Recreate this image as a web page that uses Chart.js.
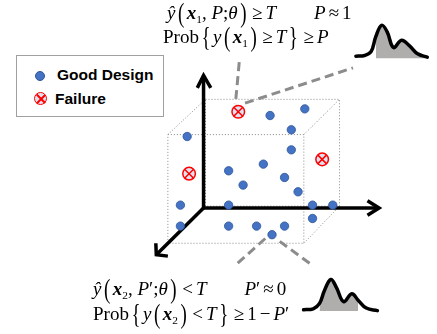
<!DOCTYPE html>
<html>
<head>
<meta charset="utf-8">
<script src="https://cdn.jsdelivr.net/npm/chart.js@4.4.1/dist/chart.umd.min.js"></script>
<style>
  html, body { margin: 0; padding: 0; background: #fff; }
  #wrap { position: relative; width: 437px; height: 334px; overflow: hidden; }
  canvas { position: absolute; left: 0; top: 0; }
  .math {
    position: absolute;
    font-family: 'Liberation Serif', 'DejaVu Serif', serif;
    font-size: 19px;
    color: #000;
    white-space: nowrap;
    line-height: 1;
  }
  .math i { font-style: italic; }
  .math b { font-weight: bold; font-style: italic; }
  .math .s { font-size: 0.6em; position: relative; top: 0.35em; }
  .math .p { display: inline-block; transform: scaleY(1.4); margin: 0 2.5px; }
  .math .br { display: inline-block; transform: scaleY(1.45); margin: 0 2.5px; }
  .math .r { margin: 0 3px; }
  .legend {
    position: absolute; left: 16px; top: 55px; width: 146px; height: 60px;
    border: 1.5px solid #a0a0a0; background: #fff;
    font-family: 'Liberation Sans', Arial, sans-serif; font-weight: bold; font-size: 15.5px;
  }
  .legend .row { position: absolute; left: 0; height: 16px; line-height: 16px; }
  .legend .dot {
    position: absolute; left: 18px; top: 4px; width: 8px; height: 8px; border-radius: 50%;
    background: #4472c4; border: 0.5px solid #2f5597;
  }
  .legend .fail {
    position: absolute; left: 17px; top: 1px; width: 11px; height: 11px; border-radius: 50%;
    background: #dce3f0; border: 1.5px solid #ff0000;
  }
  .legend .fail::before, .legend .fail::after {
    content: ''; position: absolute; left: 5px; top: -0.5px; width: 1.5px; height: 12px; background: #ff0000;
  }
  .legend .fail::before { transform: rotate(45deg); }
  .legend .fail::after { transform: rotate(-45deg); }
  .legend .txt { position: absolute; white-space: nowrap; }
</style>
</head>
<body>
<div id="wrap">
  <canvas id="diagram" width="437" height="334"></canvas>

  <div class="legend">
    <div class="row" style="top: 11px;"><span class="dot"></span><span class="txt" style="left: 40px;">Good Design</span></div>
    <div class="row" style="top: 35px;"><span class="fail"></span><span class="txt" style="left: 38px;">Failure</span></div>
  </div>

  <div class="math" style="left: 167px; top: 3px;">
    <i>ŷ</i><span class="p">(</span><b>x</b><span class="s">1</span>, <i>P</i>;<i>θ</i><span class="p">)</span><span class="r">≥</span><i>T</i>&emsp;&emsp;<i>P</i><span class="r">≈</span>1
  </div>
  <div class="math" style="left: 163px; top: 27px;">
    Prob<span class="br">{</span><i>y</i><span class="p">(</span><b>x</b><span class="s">1</span><span class="p">)</span><span class="r">≥</span><i>T</i><span class="br">}</span><span class="r">≥</span><i>P</i>
  </div>

  <div class="math" style="left: 93px; top: 279px;">
    <i>ŷ</i><span class="p">(</span><b>x</b><span class="s">2</span>, <i>P</i>′;<i>θ</i><span class="p">)</span><span class="r">&lt;</span><i>T</i>&emsp;&emsp;<i>P</i>′<span class="r">≈</span>0
  </div>
  <div class="math" style="left: 93px; top: 304px;">
    Prob<span class="br">{</span><i>y</i><span class="p">(</span><b>x</b><span class="s">2</span><span class="p">)</span><span class="r">&lt;</span><i>T</i><span class="br">}</span><span class="r">≥</span>1<span class="r">−</span><i>P</i>′
  </div>
</div>

<script>
// design points (pixel space of the 437x334 figure)
const goodX = [308, 272, 294, 186, 294, 265, 229, 287, 244, 301, 179, 229, 316, 337, 316, 179, 229, 258, 287, 274];
const goodY = [106, 113, 128, 135, 149, 164, 171, 178, 186, 193, 207, 207, 207, 207, 221, 229, 229, 229, 229, 238];
const failX = [239, 188, 326];
const failY = [109, 174, 159];

// coordinate axes + arrow heads
const axisUp = [[203, 211], [203, 71]];
const axisRight = [[202, 210], [385, 210]];
const axisDiag = [[204, 209], [154, 259]];
const headUp = [[196.5, 84], [203, 71], [210.5, 84]];
const headRight = [[373, 202.5], [385, 210], [373, 217.5]];
const headDiag = [[153.5, 247], [154, 259], [166, 260.5]];

// dotted box
const boxFront = [[166, 133], [307, 133], [307, 247], [166, 247], [166, 133]];
const boxBack = [[205, 96], [344, 96], [344, 208], [205, 208], [205, 96]];
const boxEdges = [
  [[166, 133], [205, 96]],
  [[307, 133], [344, 96]],
  [[307, 247], [344, 208]],
  [[166, 247], [205, 208]]
];

// dashed call-out lines
const callouts = [
  [[240, 57], [236, 101]],
  [[246, 100], [358, 63]],
  [[267, 242], [235, 271]],
  [[282, 245], [313, 268]]
];

// distribution sketches
const topCurve = [[361, 50.7], [370, 50], [376.7, 46], [381.7, 30], [387.7, 18.3], [393.3, 25], [400, 41.7], [408.3, 34], [416.7, 40], [425, 48.3], [435, 51.7]];
const topFill = [[381.7, 30], [387.7, 18.3], [393.3, 25], [400, 41.7], [408.3, 34], [416.7, 40], [425, 48.3], [435, 51.7]];
const topBase = 53;
const botCurve = [[306.7, 316.7], [316.7, 315.7], [323.3, 310], [328.3, 296.7], [335, 285], [340.7, 293.3], [348.3, 308.3], [356.7, 300], [363.3, 306.7], [371.7, 315], [383.3, 317.7]];
const botFill = [[323.3, 310], [328.3, 296.7], [335, 285], [340.7, 293.3], [348.3, 308.3], [356.7, 300], [363.3, 306.7]];
const botBase = 318;

const pts = a => a.map(p => ({ x: p[0], y: p[1] }));

function lineSet(points, opts) {
  return Object.assign({
    type: 'line',
    data: pts(points),
    showLine: true,
    pointRadius: 0,
    borderColor: '#000',
    borderWidth: 3.5,
    fill: false,
    tension: 0,
    clip: false
  }, opts);
}

const datasets = [];

datasets.push({
  label: 'Good Design',
  data: goodX.map((x, i) => ({ x, y: goodY[i] })),
  pointStyle: 'circle',
  pointRadius: 4.2,
  backgroundColor: '#4472c4',
  borderColor: '#2f5597',
  borderWidth: 0.8,
  order: 0
});
datasets.push({
  label: 'Failure X',
  data: failX.map((x, i) => ({ x, y: failY[i] })),
  pointStyle: 'crossRot',
  pointRadius: 6,
  borderColor: '#ff0000',
  borderWidth: 1.5,
  order: 0
});
datasets.push({
  label: 'Failure',
  data: failX.map((x, i) => ({ x, y: failY[i] })),
  pointStyle: 'circle',
  pointRadius: 6.3,
  backgroundColor: '#dce3f0',
  borderColor: '#ff0000',
  borderWidth: 1.5,
  order: 1
});

[axisUp, axisRight, axisDiag].forEach(a => datasets.push(lineSet(a, { order: 2 })));
[headUp, headRight, headDiag].forEach(a => datasets.push(lineSet(a, { order: 2, borderJoinStyle: 'miter', borderCapStyle: 'butt' })));

const dotted = { borderColor: '#8a8a8a', borderWidth: 1, borderDash: [1, 2], order: 5 };
datasets.push(lineSet(boxFront, dotted));
datasets.push(lineSet(boxBack, dotted));
boxEdges.forEach(e => datasets.push(lineSet(e, dotted)));

callouts.forEach(c => datasets.push(lineSet(c, { borderColor: '#8c8c8c', borderWidth: 3, borderDash: [9, 5], order: 3 })));

datasets.push(lineSet(topCurve, { tension: 0.4, borderWidth: 3.5, order: 2, borderCapStyle: 'round' }));
datasets.push(lineSet(topFill, { tension: 0.4, borderWidth: 0, borderColor: 'rgba(0,0,0,0)', backgroundColor: '#b0adad', fill: { value: topBase }, order: 6 }));
datasets.push(lineSet(botCurve, { tension: 0.4, borderWidth: 3.5, order: 2, borderCapStyle: 'round' }));
datasets.push(lineSet(botFill, { tension: 0.4, borderWidth: 0, borderColor: 'rgba(0,0,0,0)', backgroundColor: '#b0adad', fill: { value: botBase }, order: 6 }));

new Chart(document.getElementById('diagram'), {
  type: 'scatter',
  data: { datasets },
  options: {
    responsive: false,
    animation: false,
    layout: { padding: 0 },
    plugins: { legend: { display: false }, tooltip: { enabled: false } },
    scales: {
      x: { type: 'linear', min: 0, max: 437, display: false },
      y: { type: 'linear', min: 0, max: 334, reverse: true, display: false }
    }
  }
});
</script>
</body>
</html>
